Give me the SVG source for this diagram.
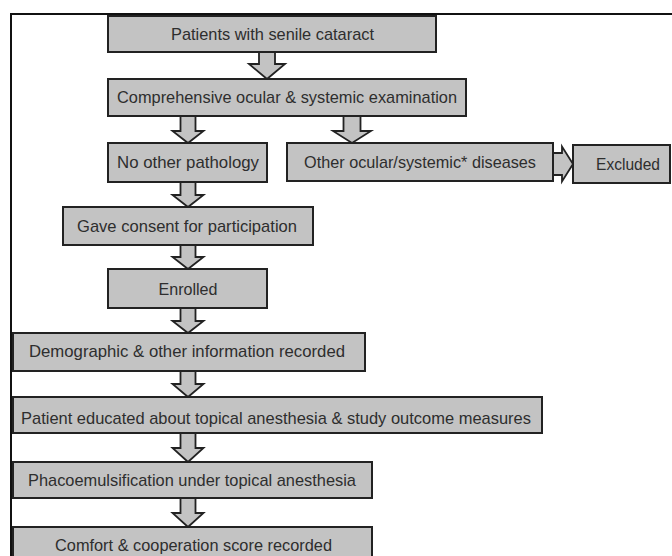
<svg xmlns="http://www.w3.org/2000/svg" width="672" height="556" viewBox="0 0 672 556">
<style>
.box{fill:#c3c3c3;stroke:#222;stroke-width:2}
.arr{fill:#c3c3c3;stroke:#222;stroke-width:1.8;stroke-linejoin:miter}
.lbl{font-family:"Liberation Sans",Arial,sans-serif;font-size:17px;fill:#2e2e2e;text-anchor:middle}
.frame{fill:none;stroke:#111;stroke-width:2}
</style>
<rect width="672" height="556" fill="#fff"/>
<path class="frame" d="M11,556 L11,14 L672,14"/>
<g id="connectors">
<path class="arr" d="M259,52 L259,64 L249,64 L267,79 L285,64 L275,64 L275,52 Z"/>
<path class="arr" d="M180.5,116 L180.5,131 L172.5,131 L188,143 L203.5,131 L195.5,131 L195.5,116 Z"/>
<path class="arr" d="M343.5,116 L343.5,131 L333,131 L352,143 L371,131 L360.5,131 L360.5,116 Z"/>
<path class="arr" d="M553,153 L562,153 L562,146.5 L573,164 L562,181.5 L562,175 L553,175 Z"/>
<path class="arr" d="M180.5,182 L180.5,195 L172.5,195 L188,207 L203.5,195 L195.5,195 L195.5,182 Z"/>
<path class="arr" d="M180.5,245 L180.5,257 L172.5,257 L188,269 L203.5,257 L195.5,257 L195.5,245 Z"/>
<path class="arr" d="M180.5,308 L180.5,321 L172.5,321 L188,333 L203.5,321 L195.5,321 L195.5,308 Z"/>
<path class="arr" d="M180.5,371 L180.5,384 L172.5,384 L188,397 L203.5,384 L195.5,384 L195.5,371 Z"/>
<path class="arr" d="M180.5,433 L180.5,448 L172.5,448 L188,462 L203.5,448 L195.5,448 L195.5,433 Z"/>
<path class="arr" d="M180.5,498 L180.5,513 L172.5,513 L188,527 L203.5,513 L195.5,513 L195.5,498 Z"/>
</g>
<g id="n1"><rect class="box" x="108" y="16" width="328" height="36"/><text class="lbl" x="272.5" y="40" textLength="203" lengthAdjust="spacingAndGlyphs">Patients with senile cataract</text></g>
<g id="n2"><rect class="box" x="108" y="79" width="358" height="37"/><text class="lbl" x="287" y="103" textLength="340" lengthAdjust="spacingAndGlyphs">Comprehensive ocular &amp; systemic examination</text></g>
<g id="n3"><rect class="box" x="108" y="143" width="159" height="39"/><text class="lbl" x="188" y="168" textLength="142" lengthAdjust="spacingAndGlyphs">No other pathology</text></g>
<g id="n4"><rect class="box" x="287" y="143" width="266" height="38"/><text class="lbl" x="420" y="168" textLength="232" lengthAdjust="spacingAndGlyphs">Other ocular/systemic* diseases</text></g>
<g id="n5"><rect class="box" x="573" y="145" width="97" height="38"/><text class="lbl" x="628" y="170" textLength="64" lengthAdjust="spacingAndGlyphs">Excluded</text></g>
<g id="n6"><rect class="box" x="63" y="207" width="250" height="38"/><text class="lbl" x="187" y="232" textLength="220" lengthAdjust="spacingAndGlyphs">Gave consent for participation</text></g>
<g id="n7"><rect class="box" x="108" y="269" width="159" height="39"/><text class="lbl" x="188" y="295" textLength="59" lengthAdjust="spacingAndGlyphs">Enrolled</text></g>
<g id="n8"><rect class="box" x="13" y="333" width="352" height="38"/><text class="lbl" x="187" y="357" textLength="316" lengthAdjust="spacingAndGlyphs">Demographic &amp; other information recorded</text></g>
<g id="n9"><rect class="box" x="13" y="397" width="529" height="36"/><text class="lbl" x="276" y="424" textLength="510" lengthAdjust="spacingAndGlyphs">Patient educated about topical anesthesia &amp; study outcome measures</text></g>
<g id="n10"><rect class="box" x="13" y="462" width="359" height="36"/><text class="lbl" x="192" y="486" textLength="328" lengthAdjust="spacingAndGlyphs">Phacoemulsification under topical anesthesia</text></g>
<g id="n11"><rect class="box" x="13" y="527" width="359" height="40"/><text class="lbl" x="193.5" y="551" textLength="277" lengthAdjust="spacingAndGlyphs">Comfort &amp; cooperation score recorded</text></g>
</svg>
